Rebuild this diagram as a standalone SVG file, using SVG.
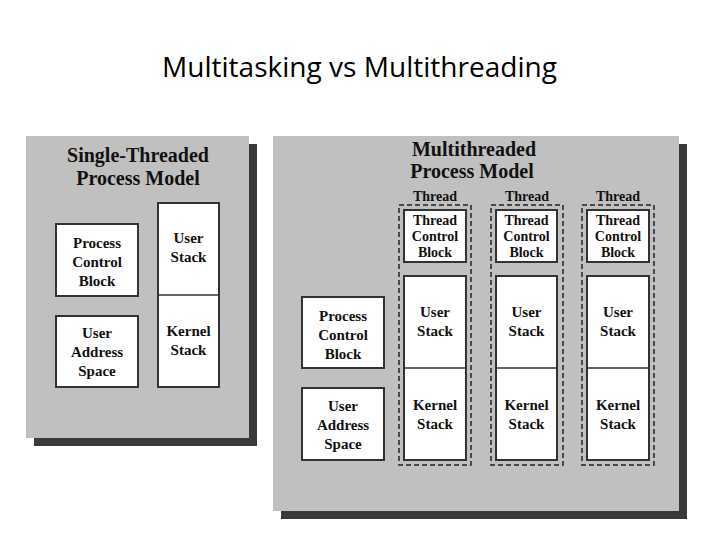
<svg xmlns="http://www.w3.org/2000/svg" width="720" height="540" viewBox="0 0 720 540">
<style>
.title{font-family:"Open Sans","Liberation Sans",sans-serif;font-size:27px;fill:#000}
.shadow{fill:#3a3a3a}
.panel{fill:#c0c0c0}
.box{fill:#fff;stroke:#333;stroke-width:2}
.div{stroke:#333;stroke-width:1.5}
.dash{fill:none;stroke:#222;stroke-width:1.5;stroke-dasharray:5 3}
.ptitle{font-family:"Liberation Serif","Times New Roman",serif;font-weight:bold;font-size:20px;fill:#111;text-anchor:middle}
.lbl{font-family:"Liberation Serif","Times New Roman",serif;font-weight:bold;font-size:15px;fill:#111;text-anchor:middle}
.sm{font-family:"Liberation Serif","Times New Roman",serif;font-weight:bold;font-size:14px;fill:#111;text-anchor:middle}
</style>
<rect width="720" height="540" fill="#fff"/>
<text class="title" x="162" y="77" textLength="395" lengthAdjust="spacingAndGlyphs">Multitasking vs Multithreading</text>

<g id="single-panel">
<rect class="shadow" x="34" y="144" width="223" height="302"/>
<rect class="panel" x="26" y="136" width="223" height="302"/>
<text class="ptitle" x="138" y="162">Single-Threaded</text>
<text class="ptitle" x="138" y="185">Process Model</text>
</g>
<g id="single-pcb">
<rect class="box" x="56" y="224" width="82" height="72"/>
<text class="lbl" x="97" y="248">Process</text>
<text class="lbl" x="97" y="267">Control</text>
<text class="lbl" x="97" y="286">Block</text>
</g>
<g id="single-uas">
<rect class="box" x="56" y="316" width="82" height="71"/>
<text class="lbl" x="97" y="338">User</text>
<text class="lbl" x="97" y="357">Address</text>
<text class="lbl" x="97" y="376">Space</text>
</g>
<g id="single-stacks">
<rect class="box" x="158" y="203" width="61" height="184"/>
<line class="div" x1="158" y1="295" x2="219" y2="295"/>
<text class="lbl" x="188.5" y="243">User</text>
<text class="lbl" x="188.5" y="262">Stack</text>
<text class="lbl" x="188.5" y="336">Kernel</text>
<text class="lbl" x="188.5" y="355">Stack</text>
</g>

<g id="multi-panel">
<rect class="shadow" x="281" y="144" width="406" height="375"/>
<rect class="panel" x="273" y="136" width="406" height="375"/>
<text class="ptitle" x="474" y="156">Multithreaded</text>
<text class="ptitle" x="472" y="178">Process Model</text>
</g>
<g id="multi-pcb">
<rect class="box" x="302" y="297" width="82" height="71"/>
<text class="lbl" x="343" y="321">Process</text>
<text class="lbl" x="343" y="340">Control</text>
<text class="lbl" x="343" y="359">Block</text>
</g>
<g id="multi-uas">
<rect class="box" x="302" y="388" width="82" height="72"/>
<text class="lbl" x="343" y="411">User</text>
<text class="lbl" x="343" y="430">Address</text>
<text class="lbl" x="343" y="449">Space</text>
</g>

<g id="thread1">
<text class="sm" x="435" y="201">Thread</text>
<rect class="dash" x="399" y="205" width="72" height="260"/>
<rect class="box" x="404" y="210" width="62" height="52"/>
<text class="sm" x="435" y="225">Thread</text>
<text class="sm" x="435" y="241">Control</text>
<text class="sm" x="435" y="257">Block</text>
<rect class="box" x="404" y="276" width="62" height="184"/>
<line class="div" x1="404" y1="368" x2="466" y2="368"/>
<text class="lbl" x="435" y="317">User</text>
<text class="lbl" x="435" y="336">Stack</text>
<text class="lbl" x="435" y="410">Kernel</text>
<text class="lbl" x="435" y="429">Stack</text>
</g>
<g id="thread2">
<text class="sm" x="527" y="201">Thread</text>
<rect class="dash" x="491" y="205" width="72" height="260"/>
<rect class="box" x="496" y="210" width="61" height="52"/>
<text class="sm" x="526.5" y="225">Thread</text>
<text class="sm" x="526.5" y="241">Control</text>
<text class="sm" x="526.5" y="257">Block</text>
<rect class="box" x="496" y="276" width="61" height="184"/>
<line class="div" x1="496" y1="368" x2="557" y2="368"/>
<text class="lbl" x="526.5" y="317">User</text>
<text class="lbl" x="526.5" y="336">Stack</text>
<text class="lbl" x="526.5" y="410">Kernel</text>
<text class="lbl" x="526.5" y="429">Stack</text>
</g>
<g id="thread3">
<text class="sm" x="618" y="201">Thread</text>
<rect class="dash" x="582" y="205" width="72" height="260"/>
<rect class="box" x="587" y="210" width="62" height="52"/>
<text class="sm" x="618" y="225">Thread</text>
<text class="sm" x="618" y="241">Control</text>
<text class="sm" x="618" y="257">Block</text>
<rect class="box" x="587" y="276" width="62" height="184"/>
<line class="div" x1="587" y1="368" x2="649" y2="368"/>
<text class="lbl" x="618" y="317">User</text>
<text class="lbl" x="618" y="336">Stack</text>
<text class="lbl" x="618" y="410">Kernel</text>
<text class="lbl" x="618" y="429">Stack</text>
</g>
</svg>
